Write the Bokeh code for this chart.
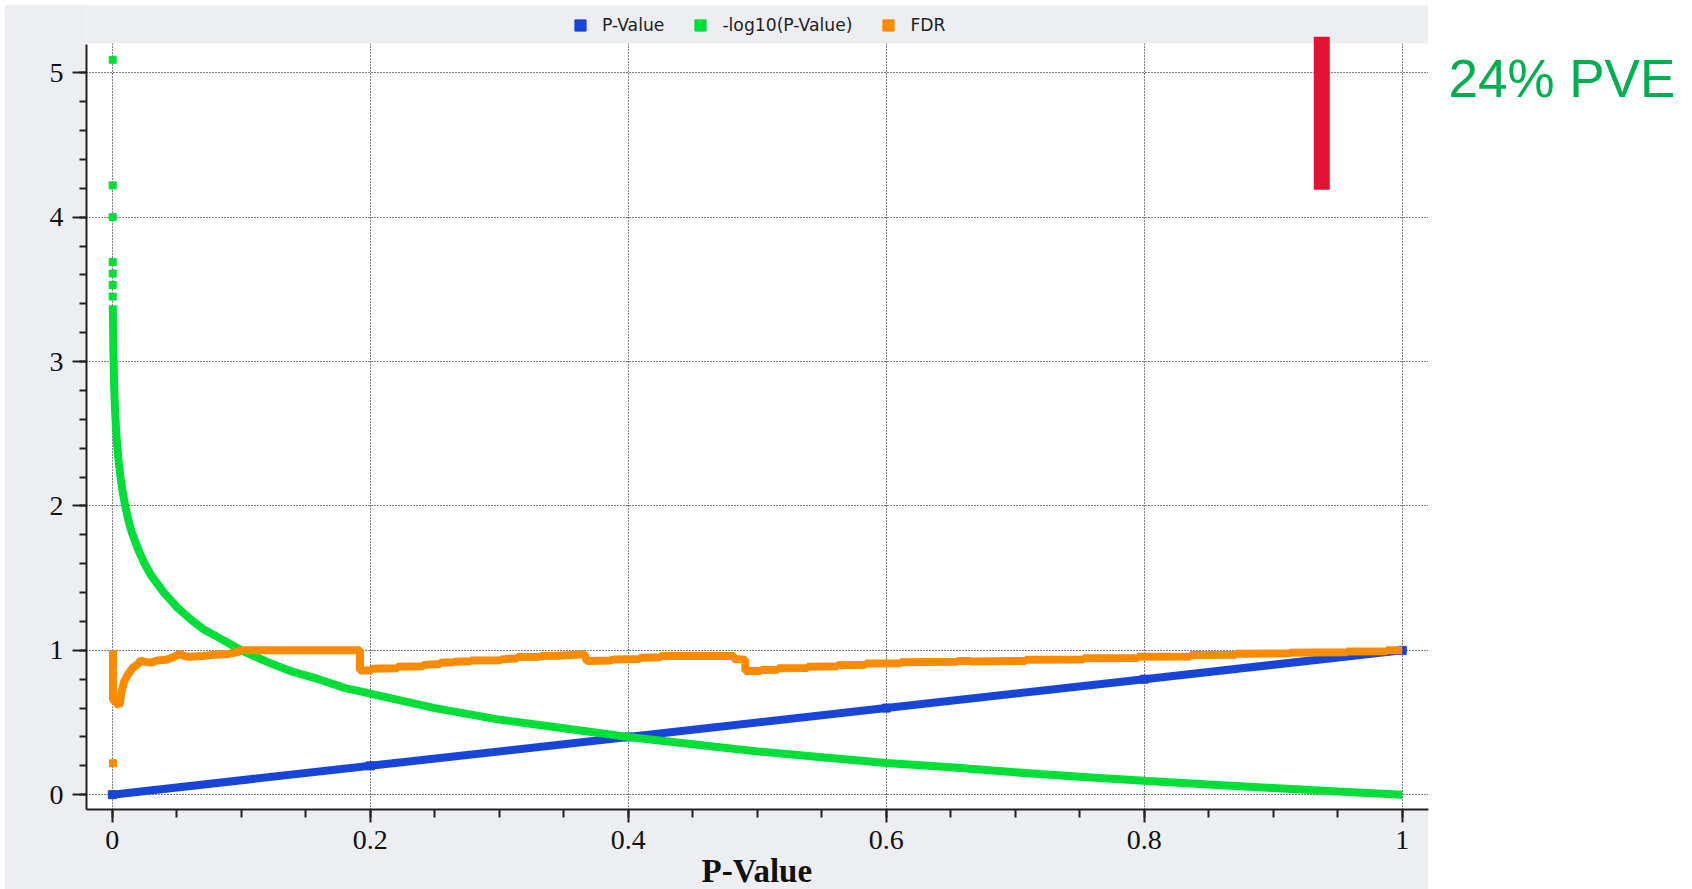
from bokeh.plotting import figure
from bokeh.models import (Legend, LegendItem, BoxAnnotation, Label, Range1d, Title,
                          SingleIntervalTicker, NumeralTickFormatter)
from bokeh.embed import file_html
from bokeh.resources import INLINE

# ---------------- data ----------------
pvalue_x = [0.0, 0.2, 0.4, 0.6, 0.8, 1.0]
pvalue_y = [0.0, 0.2, 0.4, 0.6, 0.8, 1.0]

neglog_x = [0.0004, 0.0008, 0.0015, 0.0022, 0.003, 0.004, 0.005, 0.0065, 0.008, 0.01,
            0.0125, 0.015, 0.02, 0.025, 0.03, 0.04, 0.05, 0.06, 0.07, 0.08,
            0.1, 0.12, 0.14, 0.16, 0.18, 0.2, 0.25, 0.3, 0.35, 0.4,
            0.45, 0.5, 0.55, 0.6, 0.65, 0.7, 0.75, 0.8, 0.85, 0.9, 0.95, 1.0]
neglog_y = [3.39, 3.1, 2.82, 2.65, 2.52, 2.4, 2.3, 2.19, 2.1, 2.0,
            1.9, 1.82, 1.7, 1.6, 1.52, 1.4, 1.3, 1.22, 1.15, 1.1,
            1.0, 0.92, 0.85, 0.8, 0.74, 0.7, 0.6, 0.52, 0.46, 0.4,
            0.35, 0.3, 0.26, 0.22, 0.19, 0.155, 0.125, 0.097, 0.07, 0.046, 0.022, 0.0]
neglog_top_x = [0.0003, 0.0003, 0.0003, 0.0003, 0.0003, 0.0003, 0.0003]
neglog_top_y = [5.09, 4.22, 4.0, 3.69, 3.61, 3.53, 3.45]

fdr_x = [0.0005, 0.0005, 0.003, 0.0055, 0.007, 0.009, 0.012, 0.016, 0.02, 0.022,
         0.025, 0.03, 0.035, 0.042, 0.048, 0.052, 0.056, 0.06, 0.07, 0.08,
         0.09, 0.098, 0.1, 0.192, 0.192, 0.201, 0.201, 0.221, 0.221, 0.241,
         0.241, 0.254, 0.254, 0.265, 0.265, 0.278, 0.278, 0.301, 0.301, 0.314,
         0.314, 0.332, 0.332, 0.345, 0.366, 0.368, 0.386, 0.389, 0.409, 0.409,
         0.425, 0.425, 0.482, 0.482, 0.4907, 0.4907, 0.503, 0.503, 0.516, 0.516,
         0.539, 0.539, 0.562, 0.562, 0.584, 0.584, 0.611, 0.611, 0.655, 0.655,
         0.665, 0.665, 0.708, 0.708, 0.753, 0.753, 0.795, 0.795, 0.836, 0.836,
         0.871, 0.871, 0.913, 0.913, 0.957, 0.957, 0.988, 0.988, 1.0]
fdr_y = [1.0, 0.66, 0.64, 0.615, 0.70, 0.78, 0.83, 0.88, 0.905, 0.93,
         0.92, 0.915, 0.93, 0.935, 0.955, 0.975, 0.96, 0.955, 0.96, 0.97,
         0.975, 0.99, 1.0, 1.0, 0.86, 0.86, 0.872, 0.875, 0.886, 0.89,
         0.898, 0.905, 0.914, 0.917, 0.921, 0.925, 0.93, 0.932, 0.937, 0.945,
         0.953, 0.955, 0.96, 0.962, 0.972, 0.926, 0.93, 0.937, 0.94, 0.949,
         0.952, 0.96, 0.96, 0.94, 0.935, 0.856, 0.857, 0.864, 0.866, 0.875,
         0.877, 0.887, 0.889, 0.896, 0.9, 0.908, 0.91, 0.917, 0.92, 0.926,
         0.926, 0.922, 0.926, 0.935, 0.937, 0.945, 0.947, 0.956, 0.958, 0.968,
         0.97, 0.977, 0.979, 0.984, 0.986, 0.991, 0.993, 1.0, 1.0]
fdr_point_x = [0.0005]
fdr_point_y = [0.218]

legend_labels = ["P-Value", "-log10(P-Value)", "FDR"]
x_axis_title = "P-Value"
pve_text = "24% PVE"
pve_bar_x = 0.9376
pve_bar_halfwidth = 0.0062
pve_bar_bottom = 4.19
pve_bar_top = 5.25

# ---------------- styling / layout ----------------
GRAY = "#ECEEF2"
BLUE = "#1844D8"
GREEN = "#00DE38"
ORANGE = "#F98B00"
RED = "#E31230"
PVE_GREEN = "#00B050"

X0, X1 = -0.02, 1.02          # extent of the chart panel along x
Y0, Y1 = -0.1025, 5.203       # extent of the white plotting area along y

p = figure(width=1687, height=884,
           x_range=Range1d(X0, 1.225), y_range=Range1d(Y0, 5.466),
           output_backend="svg", toolbar_location=None,
           min_border_left=81, min_border_right=0, min_border_top=0, min_border_bottom=80,
           background_fill_color="white", border_fill_color=None,
           outline_line_color=None, margin=(5, 0, 0, 5),
           styles={"background": "linear-gradient(to right, %s 0px, %s 1423px, #ffffff 1423px)" % (GRAY, GRAY)})

# axes
p.xaxis.ticker = SingleIntervalTicker(interval=0.2, num_minor_ticks=4)
p.yaxis.ticker = SingleIntervalTicker(interval=1, num_minor_ticks=5)
p.xaxis.formatter = NumeralTickFormatter(format="0.[0]")
p.yaxis.formatter = NumeralTickFormatter(format="0")
p.xaxis.bounds = (X0, X1)
p.yaxis.bounds = (Y0, 5.199)
for ax in (p.xaxis, p.yaxis):
    ax.axis_line_color = "#222222"
    ax.axis_line_width = 2
    ax.major_tick_line_color = "#222222"
    ax.major_tick_line_width = 2
    ax.minor_tick_line_color = "#222222"
    ax.minor_tick_line_width = 2
    ax.major_tick_in = 0
    ax.minor_tick_in = 0
    ax.major_label_text_font = "Liberation Serif"
    ax.major_label_text_font_size = "28px"
    ax.major_label_text_color = "#111111"
p.xaxis.major_tick_out = 13
p.xaxis.minor_tick_out = 8
p.yaxis.major_tick_out = 14
p.yaxis.minor_tick_out = 7
p.xaxis.major_label_standoff = 8
p.yaxis.major_label_standoff = 9

# x axis title, centred under the chart panel
p.add_layout(Title(text=x_axis_title, align="left", offset=615, standoff=0,
                   vertical_align="middle", text_font="Liberation Serif",
                   text_font_style="bold", text_font_size="33px", text_color="#111111"),
             "below")

# grid
p.xgrid.bounds = (X0, X1)
for g in (p.xgrid, p.ygrid):
    g.grid_line_color = "#000000"
    g.grid_line_dash = "1 2"
    g.grid_line_width = 1

# gray legend band above the plotting area, and white page to the right of the panel
p.add_layout(BoxAnnotation(right=X1, bottom=Y1, fill_color=GRAY, fill_alpha=1.0,
                           line_color=None, level="underlay"))
p.add_layout(BoxAnnotation(left=X1, fill_color="white", fill_alpha=1.0,
                           line_color=None, level="underlay"))

# series
p.line(pvalue_x, pvalue_y, line_color=BLUE, line_width=8)
r_blue = p.scatter(pvalue_x, pvalue_y, marker="square", size=8, fill_color=BLUE, line_color=BLUE)

p.line(neglog_x, neglog_y, line_color=GREEN, line_width=8)
r_green = p.scatter(neglog_top_x, neglog_top_y, marker="square", size=7, fill_color=GREEN, line_color=GREEN)

p.line(fdr_x, fdr_y, line_color=ORANGE, line_width=8)
r_orange = p.scatter(fdr_point_x, fdr_point_y, marker="square", size=7, fill_color=ORANGE, line_color=ORANGE)

# red marker bar
p.add_layout(BoxAnnotation(left=pve_bar_x - pve_bar_halfwidth, right=pve_bar_x + pve_bar_halfwidth,
                           bottom=pve_bar_bottom, top=pve_bar_top,
                           fill_color=RED, fill_alpha=1.0, line_color=None, level="overlay"))

legend = Legend(items=[LegendItem(label=legend_labels[0], renderers=[r_blue]),
                       LegendItem(label=legend_labels[1], renderers=[r_green]),
                       LegendItem(label=legend_labels[2], renderers=[r_orange])],
                orientation="horizontal", location=(480, 770),
                glyph_width=28, glyph_height=28, label_standoff=8, spacing=22,
                padding=5, margin=0, border_line_color=None, background_fill_alpha=0,
                label_text_font="DejaVu Sans", label_text_font_size="17.2px",
                label_text_color="#222222")
p.add_layout(legend)

# "24% PVE" note to the right of the chart panel
p.add_layout(Label(x=1.0358, y=4.958, text=pve_text,
                   text_font="Liberation Sans", text_font_size="53px",
                   text_color=PVE_GREEN, text_baseline="alphabetic"))

open("out.html", "w").write(file_html(p, INLINE))
